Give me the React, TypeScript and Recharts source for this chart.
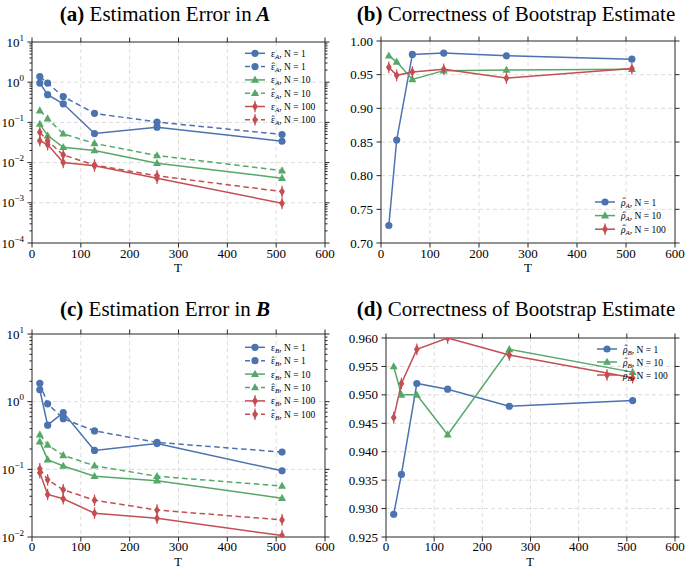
import React from "react";
import { CartesianGrid, Line, LineChart, ReferenceArea, XAxis, YAxis } from "recharts";

const T = [16, 32, 64, 128, 256, 512];
const xTicks = [0, 100, 200, 300, 400, 500, 600];

// (a) estimation error in A
const errA_n1 = [0.95, 0.49, 0.29, 0.053, 0.076, 0.034];
const errHatA_n1 = [1.38, 0.95, 0.44, 0.168, 0.102, 0.05];
const errA_n10 = [0.091, 0.047, 0.024, 0.02, 0.0096, 0.0041];
const errHatA_n10 = [0.196, 0.124, 0.052, 0.03, 0.015, 0.0063];
const errA_n100 = [0.035, 0.028, 0.0101, 0.0083, 0.0041, 0.00097];
const errHatA_n100 = [0.057, 0.035, 0.0155, 0.0087, 0.0047, 0.0019];

// (b) bootstrap coverage for A
const rhoA_n1 = [0.726, 0.853, 0.98, 0.982, 0.978, 0.973];
const rhoA_n10 = [0.978, 0.969, 0.943, 0.956, 0.957, 0.958];
const rhoA_n100 = [0.961, 0.949, 0.954, 0.958, 0.945, 0.959];

// (c) estimation error in B
const errB_n1 = [1.5, 0.45, 0.69, 0.19, 0.24, 0.095];
const errHatB_n1 = [1.87, 0.93, 0.56, 0.37, 0.25, 0.18];
const errB_n10 = [0.257, 0.139, 0.112, 0.079, 0.068, 0.0375];
const errHatB_n10 = [0.324, 0.23, 0.161, 0.113, 0.079, 0.0566];
const errB_n100 = [0.089, 0.0425, 0.0367, 0.0225, 0.0189, 0.0105];
const errHatB_n100 = [0.102, 0.07, 0.05, 0.035, 0.025, 0.0179];

// (d) bootstrap coverage for B
const rhoB_n1 = [0.929, 0.936, 0.952, 0.951, 0.948, 0.949];
const rhoB_n10 = [0.955, 0.95, 0.95, 0.943, 0.958, 0.954];
const rhoB_n100 = [0.946, 0.952, 0.958, 0.96, 0.957, 0.953];

const BLUE = "#4C72B0";
const GREEN = "#55A868";
const RED = "#C44E52";
const FONT = "'Liberation Serif', 'DejaVu Serif', serif";
const FRAME = "#262626";

type MarkerKind = "circle" | "triangle" | "diamond";

type Series = {
  key: string;
  values: number[];
  color: string;
  dashed: boolean;
  marker: MarkerKind;
  sym: string;
  hat: boolean;
  sub: string;
  n: string;
};

const mk = (
  key: string,
  values: number[],
  color: string,
  dashed: boolean,
  marker: MarkerKind,
  sym: string,
  hat: boolean,
  sub: string,
  n: string
): Series => ({ key, values, color, dashed, marker, sym, hat, sub, n });

const seriesA = [
  mk("e1", errA_n1, BLUE, false, "circle", "ε", false, "A", "1"),
  mk("h1", errHatA_n1, BLUE, true, "circle", "ε", true, "A", "1"),
  mk("e10", errA_n10, GREEN, false, "triangle", "ε", false, "A", "10"),
  mk("h10", errHatA_n10, GREEN, true, "triangle", "ε", true, "A", "10"),
  mk("e100", errA_n100, RED, false, "diamond", "ε", false, "A", "100"),
  mk("h100", errHatA_n100, RED, true, "diamond", "ε", true, "A", "100"),
];
const seriesB = [
  mk("r1", rhoA_n1, BLUE, false, "circle", "ρ", true, "A", "1"),
  mk("r10", rhoA_n10, GREEN, false, "triangle", "ρ", true, "A", "10"),
  mk("r100", rhoA_n100, RED, false, "diamond", "ρ", true, "A", "100"),
];
const seriesC = [
  mk("e1", errB_n1, BLUE, false, "circle", "ε", false, "B", "1"),
  mk("h1", errHatB_n1, BLUE, true, "circle", "ε", true, "B", "1"),
  mk("e10", errB_n10, GREEN, false, "triangle", "ε", false, "B", "10"),
  mk("h10", errHatB_n10, GREEN, true, "triangle", "ε", true, "B", "10"),
  mk("e100", errB_n100, RED, false, "diamond", "ε", false, "B", "100"),
  mk("h100", errHatB_n100, RED, true, "diamond", "ε", true, "B", "100"),
];
const seriesD = [
  mk("r1", rhoB_n1, BLUE, false, "circle", "ρ", true, "B", "1"),
  mk("r10", rhoB_n10, GREEN, false, "triangle", "ρ", true, "B", "10"),
  mk("r100", rhoB_n100, RED, false, "diamond", "ρ", true, "B", "100"),
];

function logTicks(lo: number, hi: number) {
  const out: number[] = [];
  for (let e = lo; e <= hi; e++) {
    out.push(Math.pow(10, e));
    if (e < hi) for (let k = 2; k <= 9; k++) out.push(k * Math.pow(10, e));
  }
  return out;
}

const isMajorLog = (v: number) => {
  const e = Math.log10(v);
  return Math.abs(e - Math.round(e)) < 1e-6;
};

function Marker({ kind, cx, cy, color }: { kind: MarkerKind; cx: number; cy: number; color: string }) {
  if (cx == null || cy == null || isNaN(cx) || isNaN(cy)) return null;
  if (kind === "circle") return <circle cx={cx} cy={cy} r={3.6} fill={color} />;
  if (kind === "triangle")
    return <polygon points={`${cx},${cy - 4.3} ${cx + 4},${cy + 2.8} ${cx - 4},${cy + 2.8}`} fill={color} />;
  return (
    <g>
      <polygon points={`${cx},${cy - 4.6} ${cx + 2.9},${cy} ${cx},${cy + 4.6} ${cx - 2.9},${cy}`} fill={color} />
      <line x1={cx} x2={cx} y1={cy - 5.8} y2={cy + 5.8} stroke={color} strokeWidth={1.2} />
    </g>
  );
}

type Panel = {
  left: number;
  top: number;
  width: number;
  height: number;
  yW: number;
  mTop: number;
  mRight: number;
  xH: number;
  labelDy: number;
  log: boolean;
  domain: [number, number];
  yTicks: number[];
  digits?: number;
  series: Series[];
};

function YTick(props: any) {
  const { x, y, payload, plotW, log, digits } = props;
  const v = payload.value as number;
  const major = log ? isMajorLog(v) : true;
  const len = major ? 4.5 : 2.5;
  let label: React.ReactNode = null;
  if (major) {
    if (log) {
      const e = Math.round(Math.log10(v));
      label = (
        <text x={x - 8} y={y + 4.5} textAnchor="end" fontSize={13} fontFamily={FONT} fill="#000">
          10
          <tspan dy={-6} fontSize={9}>
            {e < 0 ? `\u2212${-e}` : `${e}`}
          </tspan>
        </text>
      );
    } else {
      label = (
        <text x={x - 8} y={y + 4.5} textAnchor="end" fontSize={13} fontFamily={FONT} fill="#000">
          {v.toFixed(digits)}
        </text>
      );
    }
  }
  return (
    <g>
      <line x1={x - len} x2={x} y1={y} y2={y} stroke={FRAME} strokeWidth={1} />
      <line x1={x + plotW} x2={x + plotW + len} y1={y} y2={y} stroke={FRAME} strokeWidth={1} />
      {label}
    </g>
  );
}

function XTick(props: any) {
  const { x, y, payload, plotH, labelDy } = props;
  return (
    <g>
      <line x1={x} x2={x} y1={y} y2={y + 4.5} stroke={FRAME} strokeWidth={1} />
      <line x1={x} x2={x} y1={y - plotH} y2={y - plotH - 4.5} stroke={FRAME} strokeWidth={1} />
      <text x={x} y={y + labelDy} textAnchor="middle" fontSize={13} fontFamily={FONT} fill="#000">
        {payload.value}
      </text>
    </g>
  );
}

function ChartPanel({ p }: { p: Panel }) {
  const data = T.map((t, i) => {
    const row: Record<string, number> = { T: t };
    p.series.forEach((s) => (row[s.key] = s.values[i]));
    return row;
  });
  const plotW = p.width - p.yW - p.mRight;
  const plotH = p.height - p.mTop - p.xH;
  const gridY = p.log ? p.yTicks.filter((v) => isMajorLog(v)) : p.yTicks;
  const gridYInner = gridY.filter((v) => v > p.domain[0] + 1e-12 && v < p.domain[1] - 1e-12);
  return (
    <div style={{ position: "absolute", left: p.left, top: p.top }}>
      <LineChart
        width={p.width}
        height={p.height}
        data={data}
        margin={{ top: p.mTop, right: p.mRight, left: 0, bottom: 0 }}
      >
        <CartesianGrid
          stroke="#dcdcdc"
          strokeDasharray="4 3"
          horizontalValues={gridYInner}
          verticalValues={[100, 200, 300, 400, 500]}
        />
        <XAxis
          dataKey="T"
          type="number"
          domain={[0, 600]}
          ticks={xTicks}
          interval={0}
          height={p.xH}
          axisLine={false}
          tickLine={false}
          tickSize={0}
          tickMargin={0}
          tick={(tp: any) => <XTick {...tp} plotH={plotH} labelDy={p.labelDy} />}
        />
        <YAxis
          type="number"
          scale={p.log ? "log" : "auto"}
          domain={p.domain}
          allowDataOverflow
          ticks={p.yTicks}
          interval={0}
          width={p.yW}
          axisLine={false}
          tickLine={false}
          tickSize={0}
          tickMargin={0}
          tick={(tp: any) => <YTick {...tp} plotW={plotW} log={p.log} digits={p.digits} />}
        />
        <ReferenceArea
          x1={0}
          x2={600}
          y1={p.domain[0]}
          y2={p.domain[1]}
          fill="none"
          fillOpacity={0}
          stroke={FRAME}
          strokeWidth={1}
        />
        {p.series.map((s) => (
          <Line
            key={s.key}
            dataKey={s.key}
            stroke={s.color}
            strokeWidth={1.5}
            strokeDasharray={s.dashed ? "5.5 3.5" : undefined}
            isAnimationActive={false}
            dot={(dp: any) => (
              <Marker key={`${s.key}-${dp.index}`} kind={s.marker} cx={dp.cx} cy={dp.cy} color={s.color} />
            )}
            activeDot={false}
          />
        ))}
      </LineChart>
    </div>
  );
}

function LegendEntry({ s, x, y }: { s: Series; x: number; y: number }) {
  const tx = x + 26;
  const symW = s.sym === "ρ" ? 4.8 : 4.2;
  return (
    <g>
      <line
        x1={x}
        x2={x + 20}
        y1={y}
        y2={y}
        stroke={s.color}
        strokeWidth={1.5}
        strokeDasharray={s.dashed ? "5 3" : undefined}
      />
      <Marker kind={s.marker} cx={x + 10} cy={y} color={s.color} />
      <text x={tx} y={y + 3.5} fontSize={9.5} fontFamily={FONT} fill="#000">
        <tspan fontStyle={s.sym === "ρ" ? "italic" : "normal"}>{s.sym}</tspan>
        <tspan fontSize={7} fontStyle="italic" dy={2}>
          {s.sub}
        </tspan>
        <tspan dy={-2}>{`, N = ${s.n}`}</tspan>
      </text>
      {s.hat ? (
        <text x={tx + symW / 2 + (s.sym === "ρ" ? 0.6 : 0)} y={y + 3} textAnchor="middle" fontSize={9.5} fontFamily={FONT} fill="#000">
          {"\u02C6"}
        </text>
      ) : null}
    </g>
  );
}

const panels: Panel[] = [
  {
    left: 0, top: 0, width: 340, height: 290, yW: 32, mTop: 42, mRight: 15, xH: 47, labelDy: 15,
    log: true, domain: [1e-4, 10], yTicks: logTicks(-4, 1), series: seriesA,
  },
  {
    left: 340, top: 0, width: 345, height: 290, yW: 41, mTop: 41, mRight: 10, xH: 47, labelDy: 15,
    log: false, domain: [0.7, 1.0], yTicks: [0.7, 0.75, 0.8, 0.85, 0.9, 0.95, 1.0], digits: 2, series: seriesB,
  },
  {
    left: 0, top: 290, width: 340, height: 279, yW: 32, mTop: 44, mRight: 15, xH: 32, labelDy: 14,
    log: true, domain: [1e-2, 10], yTicks: logTicks(-2, 1), series: seriesC,
  },
  {
    left: 340, top: 290, width: 345, height: 279, yW: 46, mTop: 48, mRight: 10, xH: 32, labelDy: 14,
    log: false, domain: [0.925, 0.96],
    yTicks: [0.925, 0.93, 0.935, 0.94, 0.945, 0.95, 0.955, 0.96], digits: 3, series: seriesD,
  },
];

function Title({ x, y, tag, text, it }: { x: number; y: number; tag: string; text: string; it?: string }) {
  return (
    <text x={x} y={y} textAnchor="middle" fontSize={21} fontFamily={FONT} fill="#000">
      <tspan fontWeight="bold">{tag}</tspan>
      <tspan>{` ${text}`}</tspan>
      {it ? (
        <tspan fontWeight="bold" fontStyle="italic">
          {` ${it}`}
        </tspan>
      ) : null}
    </text>
  );
}

export default function App() {
  return (
    <div style={{ position: "absolute", left: 0, top: 0, width: 685, height: 569, background: "#fff", overflow: "hidden" }}>
      {panels.map((p, i) => (
        <ChartPanel key={i} p={p} />
      ))}
      <svg width={685} height={569} style={{ position: "absolute", left: 0, top: 0, pointerEvents: "none" }}>
        <Title x={165} y={21} tag="(a)" text="Estimation Error in" it="A" />
        <Title x={516} y={21} tag="(b)" text="Correctness of Bootstrap Estimate" />
        <Title x={165} y={316} tag="(c)" text="Estimation Error in" it="B" />
        <Title x={516} y={316} tag="(d)" text="Correctness of Bootstrap Estimate" />

        <text x={178} y={272} textAnchor="middle" fontSize={13} fontFamily={FONT}>T</text>
        <text x={528} y={272} textAnchor="middle" fontSize={13} fontFamily={FONT}>T</text>
        <text x={178} y={566} textAnchor="middle" fontSize={12.5} fontFamily={FONT}>T</text>
        <text x={530} y={566} textAnchor="middle" fontSize={12.5} fontFamily={FONT}>T</text>

        {seriesA.map((s, i) => (
          <LegendEntry key={`la${i}`} s={s} x={245} y={53.3 + i * 13.3} />
        ))}
        {seriesB.map((s, i) => (
          <LegendEntry key={`lb${i}`} s={s} x={595} y={202 + i * 13.6} />
        ))}
        {seriesC.map((s, i) => (
          <LegendEntry key={`lc${i}`} s={s} x={245} y={347.3 + i * 13.4} />
        ))}
        {seriesD.map((s, i) => (
          <LegendEntry key={`ld${i}`} s={s} x={597} y={349 + i * 13} />
        ))}
      </svg>
    </div>
  );
}
